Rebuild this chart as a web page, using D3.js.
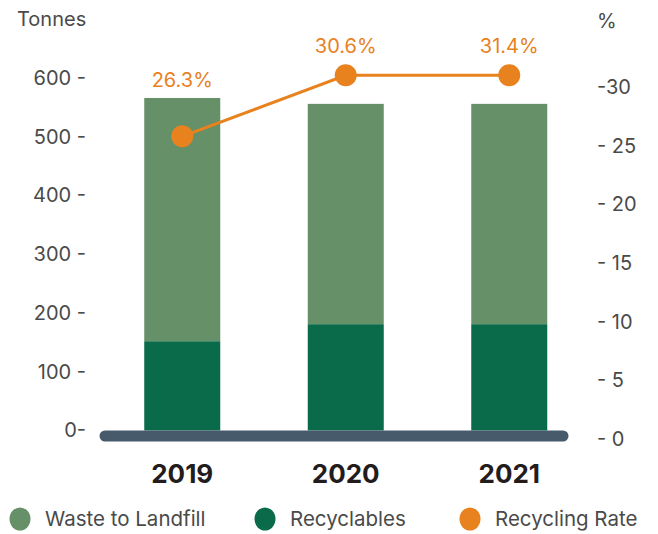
<!DOCTYPE html>
<html>
<head>
<meta charset="utf-8">
<script src="https://cdn.jsdelivr.net/npm/d3@7"></script>
<style>
  body { margin: 0; background: #fff; }
  svg text { font-family: "Inter", "Noto Sans", sans-serif; }
</style>
</head>
<body>
<div id="chart"></div>
<script>
var years = ["2019", "2020", "2021"];
var recyclables = [152, 181, 181];
var landfill = [414, 375, 375];
var rates = [25.8, 31.0, 31.0];
var rateLabels = ["26.3%", "30.6%", "31.4%"];
var leftTicks = [0, 100, 200, 300, 400, 500, 600];
var rightTicks = [0, 5, 10, 15, 20, 25, 30];

var width = 658;
var height = 534;

var colLandfill = "#659068";
var colRecycle = "#0a6b4b";
var colRate = "#e8821e";
var colAxis = "#475a6b";
var colText = "#4a4a4a";

var svg = d3.select("#chart").append("svg")
    .attr("width", width)
    .attr("height", height);

var x = d3.scalePoint()
    .domain(years)
    .range([100.5, 591])
    .padding(0.5);

var y = d3.scaleLinear()
    .domain([0, 600])
    .range([430.5, 78]);

var yRate = d3.scaleLinear()
    .domain([0, 30])
    .range([439.3, 87]);

var barW = 76;

var data = years.map(function (d, i) {
    return { year: d, rec: recyclables[i], land: landfill[i], rate: rates[i], label: rateLabels[i] };
});

// bars
svg.selectAll(".rec").data(data).enter().append("rect")
    .attr("x", d => x(d.year) - barW / 2)
    .attr("width", barW)
    .attr("y", d => y(d.rec))
    .attr("height", d => y(0) - y(d.rec))
    .attr("fill", colRecycle);

svg.selectAll(".land").data(data).enter().append("rect")
    .attr("x", d => x(d.year) - barW / 2)
    .attr("width", barW)
    .attr("y", d => y(d.rec + d.land))
    .attr("height", d => y(d.rec) - y(d.rec + d.land))
    .attr("fill", colLandfill);

// base line
svg.append("line")
    .attr("x1", 105).attr("x2", 563)
    .attr("y1", 436).attr("y2", 436)
    .attr("stroke", colAxis)
    .attr("stroke-width", 11)
    .attr("stroke-linecap", "round");

// left axis
svg.append("g")
    .attr("transform", "translate(86,0)")
    .call(d3.axisLeft(y).tickValues(leftTicks).tickSize(0).tickPadding(0)
        .tickFormat(d => d === 0 ? "0-" : d + " -"))
    .call(g => g.select(".domain").remove())
    .selectAll("text")
    .attr("fill", colText)
    .style("font-size", "20px");

// right axis
svg.append("g")
    .attr("transform", "translate(597,0)")
    .call(d3.axisRight(yRate).tickValues(rightTicks).tickSize(0).tickPadding(0)
        .tickFormat(d => d === 30 ? "-30" : "- " + d))
    .call(g => g.select(".domain").remove())
    .selectAll("text")
    .attr("fill", colText)
    .style("font-size", "20px");

svg.append("text")
    .attr("x", 17).attr("y", 26)
    .attr("fill", colText)
    .style("font-size", "20px")
    .text("Tonnes");

svg.append("text")
    .attr("x", 597).attr("y", 28)
    .attr("fill", colText)
    .style("font-size", "20px")
    .text("%");

// year labels
svg.selectAll(".year").data(data).enter().append("text")
    .attr("x", d => x(d.year))
    .attr("y", 483)
    .attr("text-anchor", "middle")
    .attr("fill", "#231c1c")
    .style("font-size", "26px")
    .style("font-weight", "bold")
    .text(d => d.year);

// rate line
svg.append("path")
    .datum(data)
    .attr("fill", "none")
    .attr("stroke", colRate)
    .attr("stroke-width", 3)
    .attr("d", d3.line()
        .x(d => x(d.year))
        .y(d => yRate(d.rate)));

svg.selectAll(".dot").data(data).enter().append("circle")
    .attr("cx", d => x(d.year))
    .attr("cy", d => yRate(d.rate))
    .attr("r", 11)
    .attr("fill", colRate);

svg.selectAll(".rlab").data(data).enter().append("text")
    .attr("x", d => x(d.year))
    .attr("y", d => Math.min(y(d.rec + d.land), yRate(d.rate) - 11) - 11)
    .attr("text-anchor", "middle")
    .attr("fill", colRate)
    .style("font-size", "20px")
    .text(d => d.label);

// legend
var legend = [
    { name: "Waste to Landfill", color: colLandfill, x: 20 },
    { name: "Recyclables", color: colRecycle, x: 265 },
    { name: "Recycling Rate", color: colRate, x: 470 }
];

var lg = svg.selectAll(".leg").data(legend).enter().append("g")
    .attr("transform", d => "translate(" + d.x + ",519)");

lg.append("ellipse")
    .attr("rx", 10.5).attr("ry", 11.5)
    .attr("fill", d => d.color);

lg.append("text")
    .attr("x", 25).attr("y", 7)
    .attr("fill", colText)
    .style("font-size", "20.5px")
    .text(d => d.name);
</script>
</body>
</html>
